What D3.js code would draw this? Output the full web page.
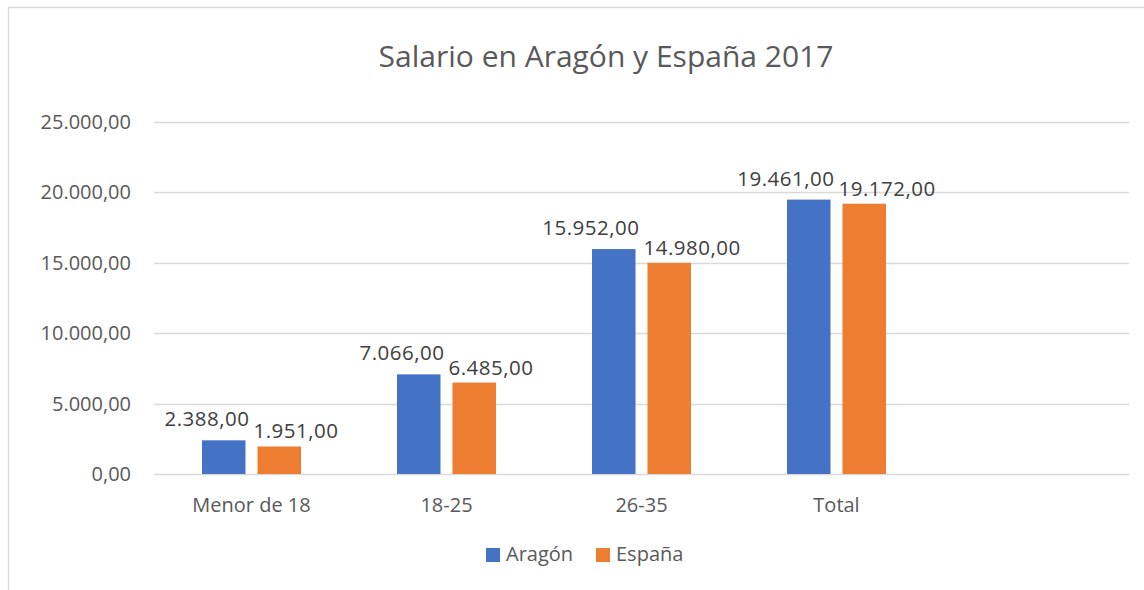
<!DOCTYPE html>
<html>
<head>
<meta charset="utf-8">
<script src="https://cdn.jsdelivr.net/npm/d3@7"></script>
<style>
  body { margin: 0; background: #fff; }
  text { font-family: "Open Sans", "Liberation Sans", sans-serif; fill: #595959; }
</style>
</head>
<body>
<div id="chart"></div>
<script>
// data
const categories = ["Menor de 18", "18-25", "26-35", "Total", ""];
const series = ["Aragón", "España"];
const aragon = [2388, 7066, 15952, 19461];
const espana = [1951, 6485, 14980, 19172];
const yTicks = [0, 5000, 10000, 15000, 20000, 25000];
const colors = ["#4472C4", "#ED7D31"];

const width = 1144;
const height = 590;
const margin = {top: 121.5, right: 15, bottom: 116, left: 154};

// spanish style number format 19.461,00
const fmt = d3.formatLocale({decimal: ",", thousands: ".", grouping: [3], currency: ["", "€"]}).format(",.2f");

const svg = d3.select("#chart")
    .append("svg")
    .attr("width", width)
    .attr("height", height);

// chart border (only top and left are visible in the crop)
svg.append("path")
    .attr("d", `M8.5,${height}V7.5H${width}`)
    .attr("fill", "none")
    .attr("stroke", "#d9d9d9")
    .attr("stroke-width", 1.3);

const x = d3.scaleBand()
    .domain(categories)
    .range([margin.left, width - margin.right]);

const y = d3.scaleLinear()
    .domain([0, 25000])
    .range([height - margin.bottom, margin.top]);

const x1 = d3.scaleBand()
    .domain(series)
    .range([0, x.bandwidth()])
    .paddingInner(0.216)
    .paddingOuter(0.865);

// gridlines
svg.append("g")
    .selectAll("line")
    .data(yTicks)
    .join("line")
    .attr("x1", margin.left)
    .attr("x2", width - margin.right)
    .attr("y1", d => Math.round(y(d)) + 0.5)
    .attr("y2", d => Math.round(y(d)) + 0.5)
    .attr("stroke", "#d9d9d9")
    .attr("stroke-width", 1.3);

// y axis labels
svg.append("g")
    .selectAll("text")
    .data(yTicks)
    .join("text")
    .attr("x", 131)
    .attr("y", d => y(d) + 7)
    .attr("text-anchor", "end")
    .attr("font-size", 20)
    .text(d => fmt(d));

// category labels
svg.append("g")
    .selectAll("text")
    .data(categories)
    .join("text")
    .attr("x", d => x(d) + x.bandwidth() / 2)
    .attr("y", 512)
    .attr("text-anchor", "middle")
    .attr("font-size", 20)
    .text(d => d);

// bars
const rows = aragon.map((v, i) => ({cat: categories[i], values: [v, espana[i]]}));

const groups = svg.append("g")
    .selectAll("g")
    .data(rows)
    .join("g")
    .attr("transform", d => `translate(${x(d.cat)},0)`);

groups.selectAll("rect")
    .data(d => d.values.map((v, j) => ({s: series[j], v: v, j: j})))
    .join("rect")
    .attr("x", d => x1(d.s))
    .attr("y", d => y(d.v))
    .attr("width", x1.bandwidth())
    .attr("height", d => y(0) - y(d.v))
    .attr("fill", d => colors[d.j]);

// data labels, pushed apart sideways when the pair overlaps (like excel does)
groups.each(function(d) {
    const g = d3.select(this);
    const labels = d.values.map((v, j) => g.append("text")
        .attr("font-size", 20.5)
        .attr("letter-spacing", 0.5)
        .attr("text-anchor", "middle")
        .style("fill", "#404040")
        .text(fmt(v)));
    const w = labels.map(t => t.node().getComputedTextLength());
    const pitch = x1.step();
    const overlap = Math.max(0, (w[0] + w[1]) / 2 - pitch + 4);
    labels.forEach((t, j) => {
        const cx = x1(series[j]) + x1.bandwidth() / 2 + (j === 0 ? -overlap / 2 : overlap / 2);
        const dy = (j === 0 && overlap > 0) ? 14 : 8;
        t.attr("x", cx).attr("y", y(d.values[j]) - dy);
    });
});

// title
svg.append("text")
    .attr("x", 606)
    .attr("y", 66.5)
    .attr("text-anchor", "middle")
    .attr("font-size", 30)
    .text("Salario en Aragón y España 2017");

// legend
const legend = svg.append("g")
    .selectAll("g")
    .data(series)
    .join("g")
    .attr("transform", (d, i) => `translate(${486 + i * 110},548)`);

legend.append("rect")
    .attr("width", 14)
    .attr("height", 14)
    .attr("fill", (d, i) => colors[i]);

legend.append("text")
    .attr("x", 20)
    .attr("y", 13)
    .attr("font-size", 20)
    .text(d => d);
</script>
</body>
</html>
